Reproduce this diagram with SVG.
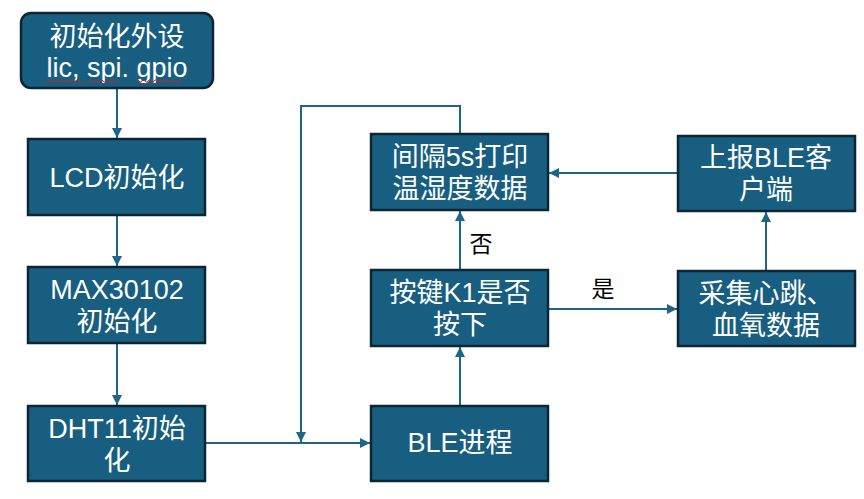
<svg xmlns="http://www.w3.org/2000/svg" width="864" height="499" viewBox="0 0 864 499">
<defs>
<style>
.box{fill:#175E80;stroke:#0C2634;stroke-width:2.5}
.t{fill:#ffffff;font-family:"Liberation Sans","Noto Sans CJK SC",sans-serif;font-size:27px;text-anchor:middle}
.lbl{fill:#000000;font-family:"Liberation Sans","Noto Sans CJK SC",sans-serif;font-size:23px;text-anchor:middle}
.c{fill:none;stroke:#1D6688;stroke-width:2}
.sq{fill:none;stroke:#D02020;stroke-width:1}
</style>
<marker id="ah" viewBox="0 0 10 10" refX="10" refY="5" markerWidth="5" markerHeight="5" orient="auto" markerUnits="strokeWidth">
<path d="M0,0 L10,5 L0,10 z" fill="#1D6688"/>
</marker>
</defs>
<rect width="864" height="499" fill="#ffffff"/>
<g id="connectors">
<path class="c" d="M117,88 L117,138" marker-end="url(#ah)"/>
<path class="c" d="M117,215 L117,266" marker-end="url(#ah)"/>
<path class="c" d="M117,343 L117,405" marker-end="url(#ah)"/>
<path class="c" d="M205,443 L370,443" marker-end="url(#ah)"/>
<path class="c" d="M460,134 L460,106 L301,106 L301,442" marker-end="url(#ah)"/>
<path class="c" d="M460,406 L460,347" marker-end="url(#ah)"/>
<path class="c" d="M460,270 L460,211" marker-end="url(#ah)"/>
<path class="c" d="M548,309 L677,309" marker-end="url(#ah)"/>
<path class="c" d="M766,271 L766,212" marker-end="url(#ah)"/>
<path class="c" d="M678,173 L549,173" marker-end="url(#ah)"/>
<text class="lbl" x="481" y="252">否</text>
<text class="lbl" x="603" y="297">是</text>
</g>
<g id="n1">
<rect class="box" x="21" y="13" width="192" height="75" rx="10"/>
<text class="t" x="117" y="46">初始化外设<tspan x="117" dy="31">lic, spi. gpio</tspan></text>
<path class="sq" d="M46,81 q1.5,-2 3,0 t3,0 t3,0 t3,0 t3,0 t3,0 t3,0 t3,0 t3,0 t3,0 t3,0 t3,0"/>
<path class="sq" d="M88,81 q1.5,-2 3,0 t3,0 t3,0 t3,0 t3,0 t3,0 t3,0 t3,0 t3,0 t3,0"/>
<path class="sq" d="M136,81 q1.5,-2 3,0 t3,0 t3,0 t3,0 t3,0 t3,0 t3,0 t3,0 t3,0 t3,0 t3,0 t3,0 t3,0 t3,0 t3,0"/>
</g>
<g id="n2">
<rect class="box" x="28" y="139" width="177" height="76"/>
<text class="t" x="117" y="187">LCD初始化</text>
</g>
<g id="n3">
<rect class="box" x="28" y="267" width="177" height="76"/>
<text class="t" x="117" y="299">MAX30102<tspan x="117" dy="32">初始化</tspan></text>
</g>
<g id="n4">
<rect class="box" x="28" y="406" width="177" height="75"/>
<text class="t" x="117" y="438">DHT11初始<tspan x="117" dy="32">化</tspan></text>
</g>
<g id="n5">
<rect class="box" x="371" y="406" width="177" height="75"/>
<text class="t" x="460" y="452">BLE进程</text>
</g>
<g id="n6">
<rect class="box" x="371" y="270" width="177" height="76"/>
<text class="t" x="460" y="302">按键K1是否<tspan x="460" dy="32">按下</tspan></text>
</g>
<g id="n7">
<rect class="box" x="371" y="134" width="177" height="76"/>
<text class="t" x="460" y="166">间隔5s打印<tspan x="460" dy="32">温湿度数据</tspan></text>
</g>
<g id="n8">
<rect class="box" x="678" y="136" width="177" height="75"/>
<text class="t" x="766" y="167">上报BLE客<tspan x="766" dy="32">户端</tspan></text>
</g>
<g id="n9">
<rect class="box" x="678" y="271" width="177" height="75"/>
<text class="t" x="766" y="303">采集心跳、<tspan x="766" dy="32">血氧数据</tspan></text>
</g>
</svg>
